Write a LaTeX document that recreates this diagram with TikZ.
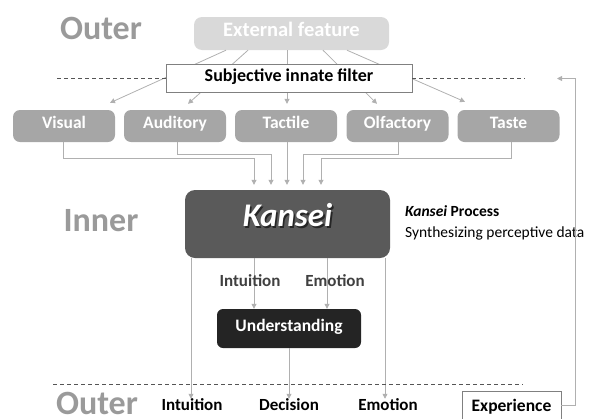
\documentclass[tikz,border=0pt]{standalone}
\usepackage{fontspec}
\setmainfont{Carlito}
\usetikzlibrary{arrows.meta}
\definecolor{levelgray}{HTML}{9A9A9A}
\definecolor{extgray}{HTML}{D9D9D9}
\definecolor{sensegray}{HTML}{A6A6A6}
\definecolor{kanseigray}{HTML}{5A5A5A}
\definecolor{undgray}{HTML}{242424}
\definecolor{linegray}{HTML}{B0B0B0}
\definecolor{dashgray}{HTML}{555555}
\definecolor{boxgray}{HTML}{808080}
\definecolor{midtext}{HTML}{404040}
\newcommand{\setsize}[1]{\fontsize{#1}{#1}\selectfont}
\newcommand{\softshadow}[1]{\makebox[0pt][l]{\kern1.6pt\raisebox{-1.6pt}{\color{black!85}#1}}#1}

\begin{document}
\begin{tikzpicture}[x=1pt,y=-1pt,
    conn/.style={draw=linegray, line width=0.8pt},
    arr/.style={conn, -{Triangle[width=5pt,length=5pt]}},
    divider/.style={draw=dashgray, line width=1pt, dash pattern=on 4pt off 3pt},
    level/.style={text=levelgray, font=\setsize{34}\bfseries, inner sep=0pt},
    sense/.style={rounded corners=7pt, fill=sensegray, text=white, minimum width=102pt, minimum height=32pt, inner sep=0pt, text height=0.62em, text depth=0.1em, font=\setsize{17.5}\bfseries},
    framed/.style={draw=boxgray, line width=0.8pt, fill=white, inner sep=0pt, font=\setsize{17.5}\bfseries},
    midlabel/.style={text=midtext, font=\setsize{17}\bfseries, inner sep=2pt},
    outlabel/.style={text=black, font=\setsize{17}\bfseries, inner sep=2pt}]
    \useasboundingbox (0,0) rectangle (601,418);

    \node[level] (outtop) at (101,28) {Outer};
    \node[level] (inner) at (101,220.5) {Inner};
    \node[level] (outbot) at (97,403) {Outer};

    \node[rounded corners=8pt, fill=extgray, text=white, minimum width=195pt, minimum height=33pt, inner sep=0pt, text height=0.62em, text depth=0.05em, font=\setsize{20.5}\bfseries] (ext) at (291.5,33.5) {External feature};

    \node[sense] (vis) at (64,126) {Visual};
    \node[sense] (aud) at (175,126) {Auditory};
    \node[sense] (tac) at (286,126) {Tactile};
    \node[sense] (olf) at (397.5,126) {Olfactory};
    \node[sense] (tas) at (508.5,126) {Taste};

    \draw[arr] ([xshift=-65.5pt]ext.south) -- ([xshift=46pt,yshift=7pt]vis.north);
    \draw[arr] ([xshift=-43.5pt]ext.south) -- ([xshift=13pt,yshift=6pt]aud.north);
    \draw[arr] ([xshift=-4.5pt]ext.south) -- ([xshift=1pt,yshift=6pt]tac.north);
    \draw[arr] ([xshift=31.5pt]ext.south) -- ([xshift=-20.5pt,yshift=6pt]olf.north);
    \draw[arr] ([xshift=55.5pt]ext.south) -- ([xshift=-43.5pt,yshift=8pt]tas.north);

    \node[framed, minimum width=246pt, minimum height=28pt, text height=0.62em, text depth=0.05em, font=\setsize{18}\bfseries] (filter) at (289,78.5) {Subjective innate filter};
    \coordinate (dashL) at (57,78.5);
    \coordinate (dashR) at (525,78.5);
    \draw[divider] (dashL) -- (filter.west);
    \draw[divider] (filter.east) -- (dashR);

    \node[rounded corners=10pt, fill=kanseigray, text=white, minimum width=205pt, minimum height=68pt, inner sep=0pt, text height=0.62em, text depth=0.05em, font=\setsize{33}\bfseries\itshape] (kan) at (287.5,224) {\softshadow{Kansei}};

    \draw[arr] ([xshift=-1pt]vis.south) -- ++(0,16) -| ([xshift=-33.5pt,yshift=5pt]kan.north);
    \draw[arr] ([xshift=2pt]aud.south) -- ++(0,12) -| ([xshift=-16.5pt,yshift=5pt]kan.north);
    \draw[arr] ([xshift=1pt]tac.south) -- ([xshift=-0.5pt,yshift=5pt]kan.north);
    \draw[arr] ([xshift=0.5pt]olf.south) -- ++(0,12) -| ([xshift=15.5pt,yshift=5pt]kan.north);
    \draw[arr] ([xshift=2.5pt]tas.south) -- ++(0,16) -| ([xshift=33.5pt,yshift=5pt]kan.north);

    \node[anchor=north west, fill=white, align=left, inner sep=1pt, font=\fontsize{15.5}{21}\selectfont] (proc) at (404,204) {\textbf{\textit{Kansei} Process}\\Synthesizing perceptive data};

    \node[rounded corners=6pt, fill=undgray, text=white, minimum width=144pt, minimum height=39pt, inner sep=0pt, text height=0.62em, text depth=0.1em, font=\setsize{17.5}\bfseries] (und) at (289,328.5) {Understanding};

    \node[outlabel] (bint) at (192,405) {Intuition};
    \node[outlabel] (bdec) at (289,405) {Decision};
    \node[outlabel] (bemo) at (388,405) {Emotion};
    \node[framed, minimum width=99pt, minimum height=36pt, text height=0.62em, text depth=0.1em] (exp) at (511.5,409) {Experience};

    \draw[arr] ([xshift=-96.5pt]kan.south) -- ([xshift=-96.5pt,yshift=-2pt]kan.south |- bint.north);
    \draw[arr] ([xshift=-33.5pt]kan.south) -- ([xshift=-33.5pt]kan.south |- und.north);
    \draw[arr] ([xshift=39.5pt]kan.south) -- ([xshift=39.5pt]kan.south |- und.north);
    \draw[arr] ([xshift=97.5pt]kan.south) -- ([xshift=97.5pt,yshift=-2pt]kan.south |- bemo.north);
    \draw[arr] (und.south) -- ([yshift=-2pt]bdec.north);

    \node[midlabel] (mint) at (250,281) {Intuition};
    \node[midlabel] (memo) at (335,281) {Emotion};

    \coordinate (fb) at (557,78.5);
    \draw[arr] ([yshift=4pt]exp.east) -- ++(14,0) |- (fb);

    \coordinate (dashBL) at (53,384);
    \coordinate (dashBR) at (523,384);
    \draw[divider] (dashBL) -- (dashBR);
\end{tikzpicture}
\end{document}
